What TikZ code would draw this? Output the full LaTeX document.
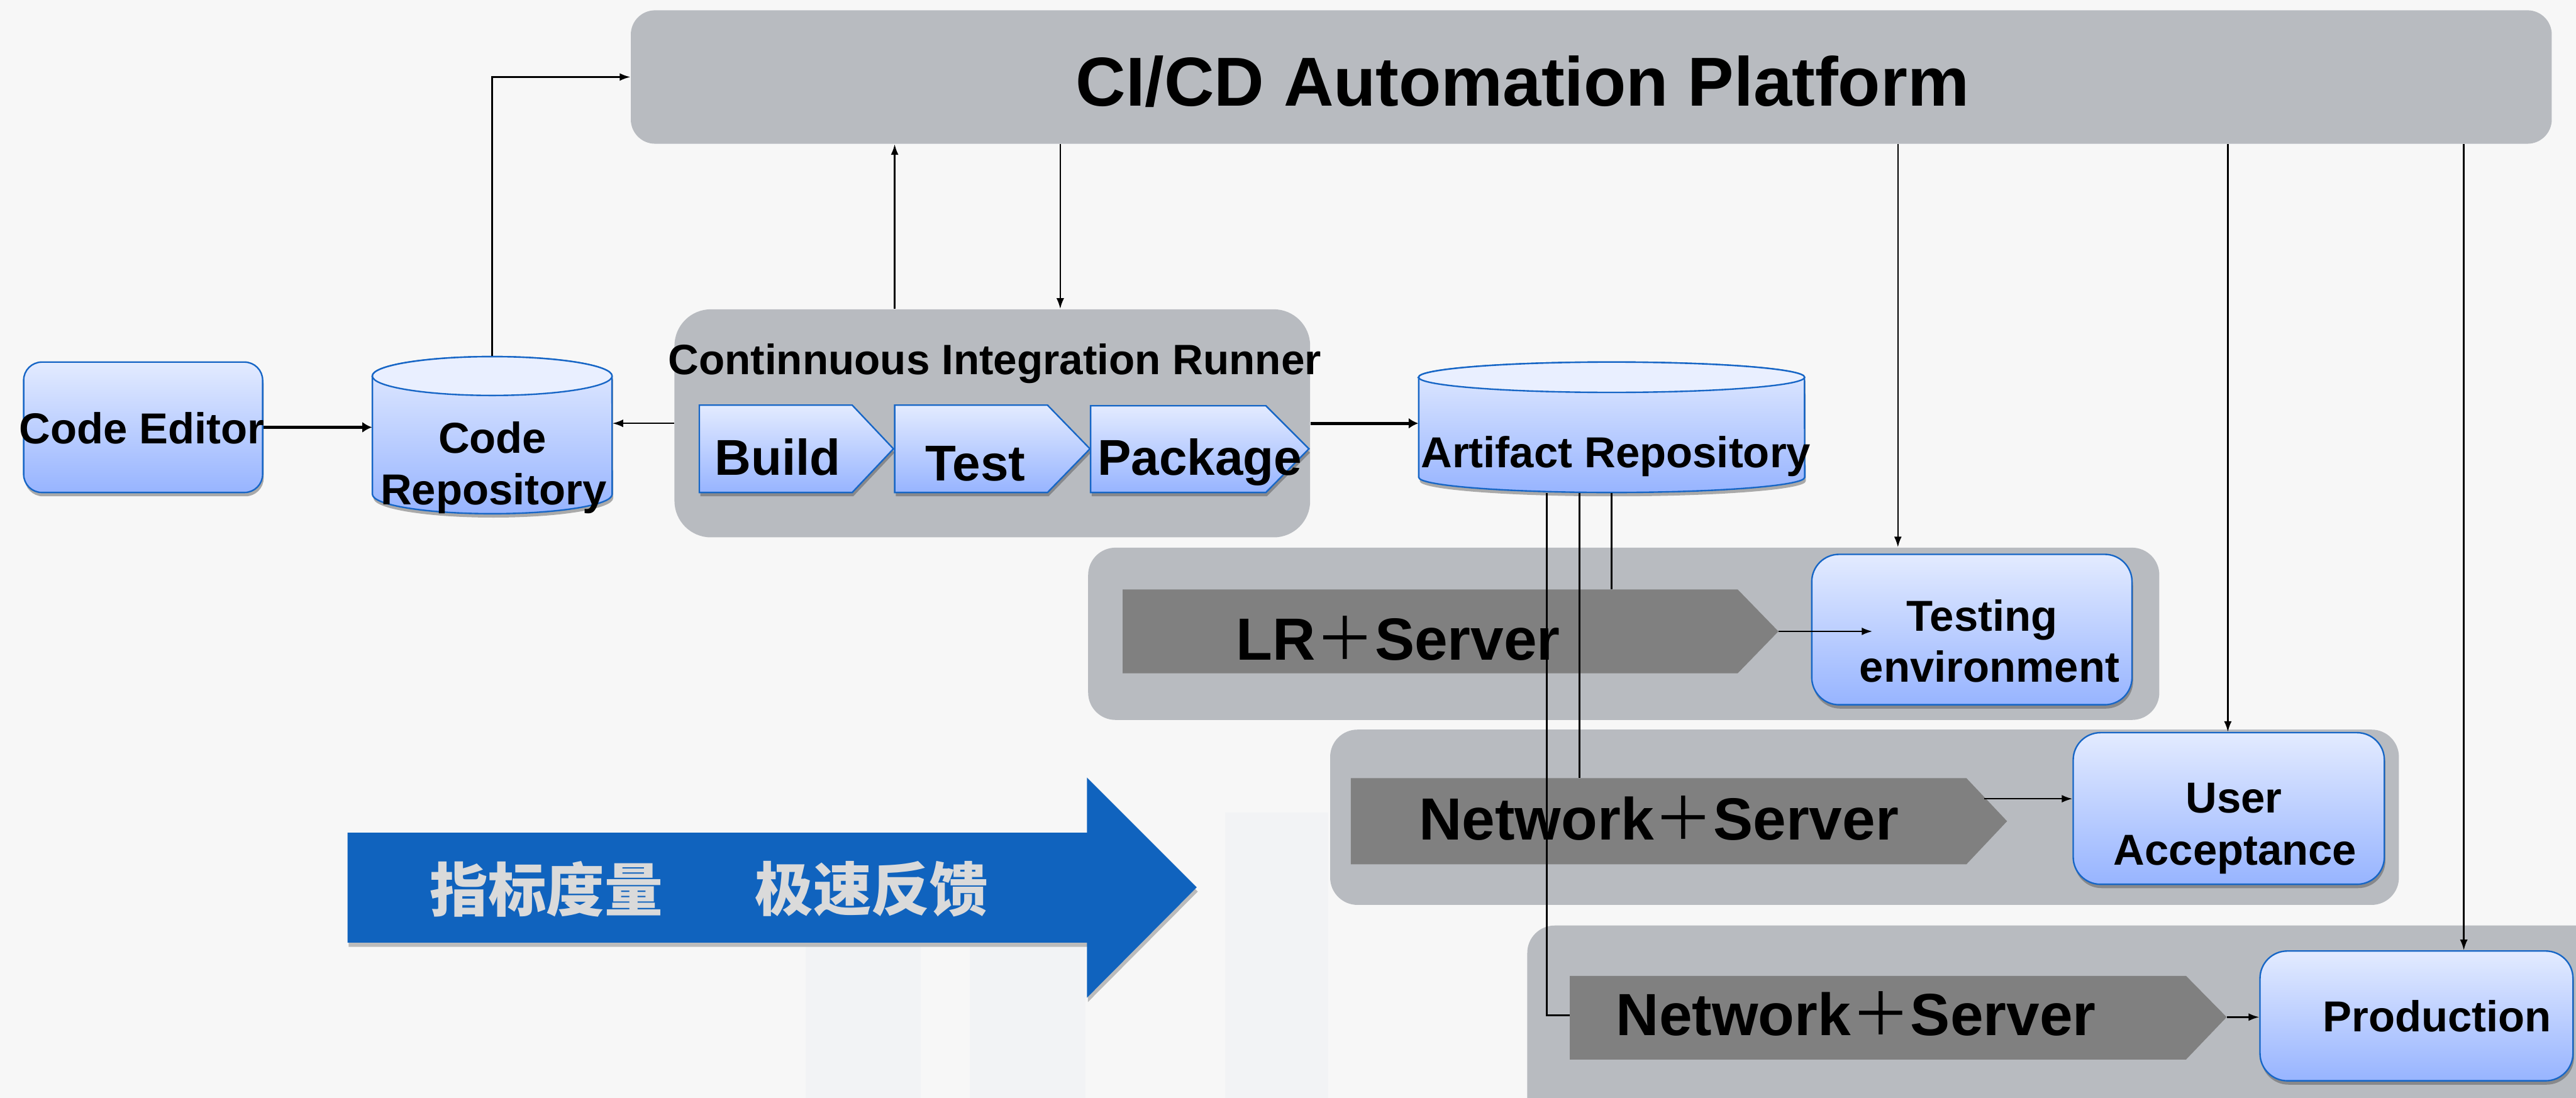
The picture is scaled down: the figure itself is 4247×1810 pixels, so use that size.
\documentclass[tikz,border=0pt]{standalone}
\usepackage{fontspec}
\setmainfont{Liberation Sans}
\newfontfamily\cjk{Noto Sans CJK SC}
\usetikzlibrary{arrows.meta,shadows,fit,calc}

\definecolor{bgc}{HTML}{F7F7F7}
\definecolor{wmc}{HTML}{F2F3F5}
\definecolor{grpgray}{HTML}{B8BBC0}
\definecolor{chevgray}{HTML}{808080}
\definecolor{bluetop}{HTML}{E3EBFF}
\definecolor{bluebot}{HTML}{97B4FF}
\definecolor{blueline}{HTML}{1766C6}
\definecolor{cyltopc}{HTML}{E9EFFF}
\definecolor{bigblue}{HTML}{1063BE}
\definecolor{cjkgray}{HTML}{DADADA}

\tikzset{
  grp/.style={fill=grpgray, inner sep=0pt},
  bluebox/.style={top color=bluetop, bottom color=bluebot, draw=blueline, line width=0.7pt,
    drop shadow={shadow xshift=0.5pt, shadow yshift=-1.8pt, opacity=0.45, fill=black!70}},
  chevfill/.style={fill=chevgray},
  cyltopstyle/.style={fill=cyltopc, draw=blueline, line width=0.7pt},
  namebox/.style={inner sep=0pt},
  conn/.style={draw=black, line width=0.7pt},
  arr/.style={draw=black, line width=0.7pt, -{Latex[length=5pt,width=3.6pt]}},
  thickarr/.style={draw=black, line width=1.5pt, -{Latex[length=4.5pt,width=5pt]}},
  lbl/.style={inner sep=0pt, anchor=base, text=black, font=\bfseries\fontsize{20.3}{24}\selectfont},
  lblbig/.style={lbl, font=\bfseries\fontsize{27.9}{32}\selectfont},
  lblchev/.style={lbl, font=\bfseries\fontsize{23.6}{28}\selectfont},
  cjklbl/.style={inner sep=0pt, anchor=center, text=cjkgray, font=\cjk\bfseries\fontsize{27.3}{30}\selectfont},
}
\newcommand{\fwplus}{{\cjk\mdseries ＋}}

\begin{document}
\begin{tikzpicture}[x=0.01cm, y=-0.01cm]
\useasboundingbox (0,0) rectangle (4247,1810);
\clip (0,0) rectangle (4247,1810);
\fill[bgc] (0,0) rectangle (4247,1810);

% faint watermark
\fill[wmc] (1328,1560) rectangle (1518,1810);
\fill[wmc] (1599,1560) rectangle (1790,1810);
\fill[wmc] (2020,1340) rectangle (2190,1810);

% gray group boxes
\node[grp, rounded corners=0.4cm, fit={(1040,17)(4207,237)}] (cicd) {};
\node[grp, rounded corners=0.6cm, fit={(1112,510)(2160,886)}] (runner) {};
\node[grp, rounded corners=0.45cm, fit={(1794,903)(3560,1187)}] (lrgrp) {};
\node[grp, rounded corners=0.45cm, fit={(2193,1203)(3955,1492)}] (netgrp) {};
\node[grp, rounded corners=0.45cm, fit={(2518,1526)(4320,1880)}] (prodgrp) {};

\node[lbl, font=\bfseries\fontsize{32.5}{38}\selectfont] (cicdlbl) at (2510,175) {CI/CD Automation Platform};
\node[lbl, font=\bfseries\fontsize{19.9}{24}\selectfont] (runnerlbl) at (1640,617) {Continnuous Integration Runner};

% big blue arrow
\path[fill=bigblue, drop shadow={shadow xshift=0.5pt, shadow yshift=-2pt, opacity=0.35, fill=black!70}]
  (573,1373) -- (1792,1373) -- (1792,1282) -- (1973,1463) -- (1792,1645) -- (1792,1554) -- (573,1554) -- cycle;
\node[cjklbl] (metric) at (901,1466) {指标度量};
\node[cjklbl] (feedback) at (1437,1466) {极速反馈};

% Code Editor
\node[bluebox, rounded corners=0.3cm, namebox, fit={(39,597)(433,812)}] (editor) {};
\node[lbl] (editorlbl) at (234,732) {Code Editor};

% Code Repository cylinder
\path[bluebox] (614,620) -- (614,815) arc[start angle=180, end angle=360, x radius=1.975cm, y radius=0.32cm]
  -- (1009,620) arc[start angle=0, end angle=180, x radius=1.975cm, y radius=0.32cm] -- cycle;
\path[cyltopstyle] (811.5,620) ellipse [x radius=1.975cm, y radius=0.32cm];
\node[namebox, fit={(614,588)(1009,847)}] (coderepo) {};
\node[lbl] (repol1) at (812,747) {Code};
\node[lbl] (repol2) at (814,832) {Repository};

% Build / Test / Package chevrons
\path[bluebox] (1153,668) -- (1405,668) -- (1473,740) -- (1405,812) -- (1153,812) -- cycle;
\path[bluebox] (1475,668) -- (1727,668) -- (1797,740) -- (1727,812) -- (1475,812) -- cycle;
\path[bluebox] (1798,669) -- (2087,669) -- (2158,740) -- (2087,812) -- (1798,812) -- cycle;
\node[lblchev] (buildlbl) at (1282,783) {Build};
\node[lblchev] (testlbl) at (1608,793) {Test};
\node[lblchev] (packagelbl) at (1978,783) {Package};

% Artifact Repository cylinder
\path[bluebox] (2339,622) -- (2339,787) arc[start angle=180, end angle=360, x radius=3.18cm, y radius=0.25cm]
  -- (2975,622) arc[start angle=0, end angle=180, x radius=3.18cm, y radius=0.25cm] -- cycle;
\path[cyltopstyle] (2657,622) ellipse [x radius=3.18cm, y radius=0.25cm];
\node[namebox, fit={(2339,597)(2975,812)}] (artifact) {};
\node[lbl] (artifactlbl) at (2664,771) {Artifact Repository};

% gray chevrons
\path[chevfill] (1851,972) -- (2865,972) -- (2932,1041) -- (2865,1110) -- (1851,1110) -- cycle;
\path[chevfill] (2227,1283) -- (3242,1283) -- (3309,1354) -- (3242,1425) -- (2227,1425) -- cycle;
\path[chevfill] (2588,1609) -- (3604,1609) -- (3671,1677) -- (3604,1747) -- (2588,1747) -- cycle;
\node[lblbig] (lrlbl) at (2305,1088) {LR\fwplus Server};
\node[lblbig] (net2lbl) at (2735,1385) {Network\fwplus Server};
\node[lblbig] (net3lbl) at (3060,1707) {Network\fwplus Server};

% environment boxes
\node[bluebox, rounded corners=0.45cm, namebox, fit={(2987,914)(3515,1162)}] (testenv) {};
\node[lbl] (testl1) at (3268,1040) {Testing};
\node[lbl] (testl2) at (3280,1125) {environment};
\node[bluebox, rounded corners=0.45cm, namebox, fit={(3418,1208)(3931,1458)}] (ua) {};
\node[lbl] (ual1) at (3683,1340) {User};
\node[lbl] (ual2) at (3685,1426) {Acceptance};
\node[bluebox, rounded corners=0.45cm, namebox, fit={(3726,1568)(4242,1782)}] (prod) {};
\node[lbl] (prodlbl) at (4018,1701) {Production};

% named coordinates for connector ends
\coordinate (upx) at (1475,0);
\coordinate (dnx) at (1748,0);
\coordinate (tex) at (3129,0);
\coordinate (uax) at (3673,0);
\coordinate (prx) at (4062,0);
\coordinate (lrtop) at (2657,972);
\coordinate (net2top) at (2604,1283);
\coordinate (a1x) at (2550,0);
\coordinate (net3w) at (2588,1674);
\coordinate (lrtip) at (2932,1041);
\coordinate (teend) at (3087,1041);
\coordinate (n2out) at (3271,1317);
\coordinate (n3tip) at (3671,1677);

% connectors
\draw[thickarr] (editor.east) -- (editor.east -| coderepo.west);
\draw[arr] (runner.west) -- (runner.west -| coderepo.east);
\draw[arr] (coderepo.north) |- (cicd.west);
\draw[arr] (runner.north -| upx) -- (cicd.south -| upx);
\draw[arr] (cicd.south -| dnx) -- (runner.north -| dnx);
\draw[thickarr] (runner.east) -- (runner.east -| artifact.west);
\draw[conn] (artifact.south -| lrtop) -- (lrtop);
\draw[conn] (artifact.south -| net2top) -- (net2top);
\draw[conn] (artifact.south -| a1x) |- (net3w);
\draw[arr] (cicd.south -| tex) -- (lrgrp.north -| tex);
\draw[arr] (cicd.south -| uax) -- (ua.north -| uax);
\draw[arr] (cicd.south -| prx) -- (prod.north -| prx);
\draw[arr] (lrtip) -- (teend);
\draw[arr] (n2out) -- (n2out -| ua.west);
\draw[arr] (n3tip) -- (n3tip -| prod.west);
\end{tikzpicture}
\end{document}
